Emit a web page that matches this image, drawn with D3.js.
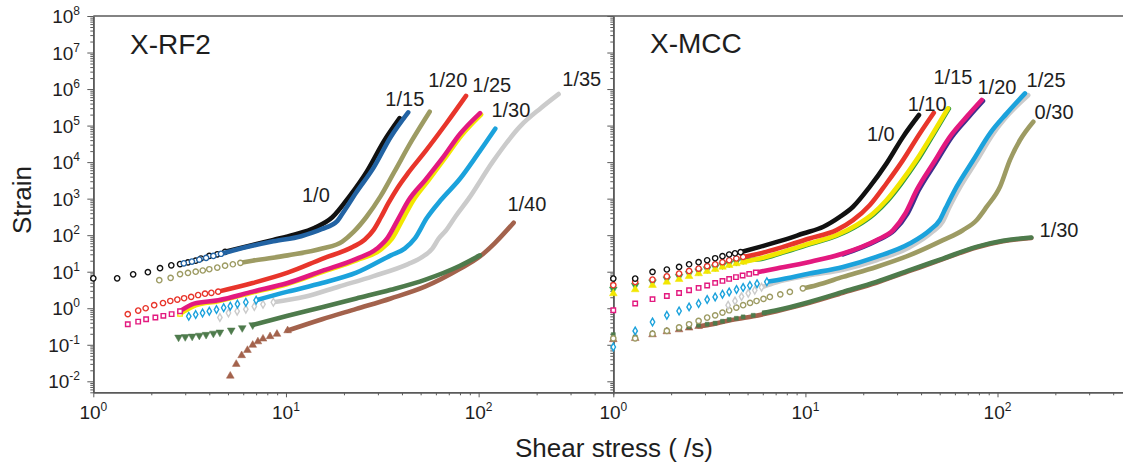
<!DOCTYPE html>
<html>
<head>
<meta charset="utf-8">
<script src="https://cdn.jsdelivr.net/npm/d3@7"></script>
<style>
  body { margin: 0; background: #fff; }
  text { font-family: "Liberation Sans", Arial, sans-serif; fill: #1e1e1e; }
</style>
</head>
<body>
<svg id="chart" width="1123" height="463"></svg>
<script>
// X-RF2 panel
var rf2_0  = [[1.0,6.6],[1.33,6.6],[1.61,8.5],[1.92,9.7],[2.22,12.5],[2.54,15],[2.82,16.2],[3.1,18],[3.4,20],[3.62,23],[4.0,27],[4.4,30],[4.83,35],
              [6.72,54],[8.6,74],[11.0,103],[14.1,159],[17.4,309],[21.4,1170],[26.2,5400],[32.3,38000],[38.9,160000]];
var rf2_b  = [[2.95,17],[3.25,19],[3.55,21.5],[3.85,24],[4.2,27],[4.6,31],
              [5.5,40],[8.6,68],[12.0,94],[15.3,146],[18.5,247],[19.7,400],[23.2,1500],[28.4,6850],[34.9,48000],[43.1,230000]];
var rf2_15 = [[2.2,5.85],[2.52,6.8],[2.82,8.6],[3.1,9.3],[3.4,10],[3.7,10.8],[4.0,11.7],[4.4,13],[4.83,14.6],[5.3,16],[5.8,17.5],
              [6.7,20],[10.2,28],[15.4,43],[19.6,67],[22.5,125],[26.2,320],[31,1170],[36.5,5400],[44.9,38000],[55.7,240000]];
var rf2_20 = [[1.51,0.69],[1.71,0.865],[1.87,1.0],[2.07,1.21],[2.3,1.39],[2.51,1.58],[2.73,1.73],[2.96,1.88],[3.22,2.05],[3.5,2.3],[3.8,2.5],[4.1,2.65],[4.45,2.85],
              [6.72,4.9],[10.2,9.4],[15.4,22.5],[22.3,48],[25.6,75],[28.5,140],[31,300],[34,750],[38,2000],[43,5000],[53,20000],[67.9,114000],[86,650000]];
var rf2_25 = [[1.51,0.365],[1.71,0.43],[1.88,0.5],[2.1,0.56],[2.31,0.62],[2.55,0.69],[2.82,0.83],
              [3.33,1.34],[4.45,1.66],[6.72,2.85],[10.2,4.9],[15.4,10.5],[23.2,22.5],[29.7,43],[33.6,83],[38.4,290],[43.3,900],[53,3300],[65,13000],[80,59000],[101.7,220000]];
var rf2_y  = [[2.82,0.7],
              [3.4,1.2],[4.45,1.55],[6.72,2.7],[10.2,4.6],[15.4,9.8],[23.2,20.5],[31,40],[35.5,80],[40.5,280],[45.5,850],[55,3200],[67,13000],[82,56000],[103,200000]];
var rf2_30 = [[3.13,0.6],[3.4,0.67],[3.69,0.74],[4.0,0.83],[4.36,0.92],[4.75,1.03],[5.14,1.14],[5.6,1.3],[6.19,1.46],[7.0,1.66],
              [10.2,2.85],[15.4,4.9],[23.2,9.4],[35,28],[41.3,43],[46.8,83],[53.7,290],[63.5,900],[80,3500],[98.5,16000],[122,82000]];
var rf2_35 = [[4.54,0.56],[5.03,0.74],[5.58,0.83],[6.19,0.94],[6.85,1.12],[7.6,1.28],[8.6,1.46],
              [12.5,2.05],[18.9,3.95],[28.5,7.6],[43,16.2],[50.8,25],[57.5,43],[62,80],[67.3,130],[76,330],[88.8,1000],[118,10000],[165.6,100000],[210,300000],[260,730000]];
var rf2_g  = [[2.77,0.16],[3.0,0.165],[3.26,0.17],[3.55,0.18],[3.85,0.19],[4.2,0.205],[4.54,0.22],[5.2,0.25],[5.93,0.29],[6.72,0.347],
              [10.2,0.62],[15.4,1.07],[23.2,1.85],[35,3.2],[53,6.1],[80,14.6],[101.5,28]];
var rf2_40 = [[5.14,0.014],[5.52,0.0295],[5.89,0.051],[6.31,0.071],[6.72,0.098],[7.15,0.122],[7.6,0.145],[8.27,0.169],[8.98,0.196],[10.2,0.245],
              [15.4,0.5],[23.2,0.96],[35,1.85],[53,3.95],[80,12],[101.5,26],[121,60],[152,220]];

// X-MCC panel
var mcc_0  = [[1.0,6.5],[1.3,6.5],[1.6,9.9],[1.9,11.5],[2.2,13.5],[2.48,16],[2.78,18.2],[3.08,20.6],[3.39,23.4],[3.7,26.6],[4.01,29.6],[4.3,32],[4.6,34.2],
              [5.79,47.8],[7.65,73],[9.73,111],[12.4,170],[15.1,316],[17.7,600],[21.6,2100],[26.4,9100],[32.2,49000],[39,195000]];
var mcc_10 = [[1.0,4.27],[1.3,5.25],[1.6,6.1],[1.9,7.5],[2.2,8.9],[2.48,10.5],[2.78,12.2],[3.08,14.2],[3.39,16],[3.7,18.2],[4.01,20.6],[4.37,23],[4.74,25.4],
              [5.79,31.6],[7.65,47.8],[10.5,81],[14.5,137],[17.7,257],[21.6,660],[26.4,2600],[32.2,11350],[39.4,61000],[46.6,224000]];
var mcc_g  = [[1.0,3.3],[1.3,4.2],[1.6,5.2],[1.9,6.3],[2.2,7.4],[2.48,8.9],[2.78,10.4],[3.08,11.9],[3.39,13.4],[3.7,15.3],[4.01,17],[4.37,18.9],[4.74,20.8],
              [5.79,22],[7.65,33.5],[10.5,56],[14.5,95],[18.6,180],[22.8,380],[26.8,880],[31.5,2550],[38.3,11000],[46.6,60000],[55.8,290000]];
var mcc_15 = [[1.0,2.53],[1.3,3.25],[1.6,4.27],[1.9,5.25],[2.2,6.2],[2.48,7.5],[2.78,8.9],[3.08,10.3],[3.39,11.7],[3.7,13.5],[4.01,15.1],[4.37,16.8],[4.74,18.5],
              [5.79,22.9],[7.65,35],[10.5,59],[14.5,100],[18.4,188],[22.5,393],[26.4,900],[31,2600],[37.8,11350],[46.1,61000],[55.2,296000]];
var mcc_20 = [[1.0,0.88],[1.3,1.35],[1.6,1.77],[1.9,2.17],[2.2,2.62],[2.48,3.1],[2.78,3.6],[3.08,4.2],[3.39,4.93],[3.7,5.6],[4.01,6.35],[4.35,7.1],[4.71,7.9],[5.1,8.7],[5.52,9.5],
              [7.08,12.2],[10.5,18.5],[15.7,31.6],[23.4,73],[28.6,137],[33,380],[38,1730],[46.3,9300],[56.6,49900],[69.2,176000],[82.7,500000]];
var mcc_p  = [[15.7,30],[23.4,70],[29,135],[34,390],[39,1750],[47.5,9300],[58,50000],[71,175000],[84,470000]];
var mcc_25 = [[1.0,0.087],[1.3,0.24],[1.6,0.42],[1.9,0.64],[2.2,0.84],[2.48,1.09],[2.78,1.35],[3.08,1.73],[3.39,2.04],[3.7,2.42],[4.01,2.8],[4.38,3.25],[4.74,3.69],[5.14,4.19],[5.6,4.7],[6.3,5.3],
              [7.08,5.85],[10.5,8.9],[15.7,13.5],[23.4,25.5],[34.9,59],[44.4,137],[50,257],[53.7,550],[61.3,2120],[74.8,11400],[91.4,61400],[111.7,216000],[139,762000]];
var mcc_gy = [[3.96,1.21],[4.3,1.58],[4.65,2.08],[5.04,2.56],[5.45,3.1],[5.91,3.76],
              [7.08,5.15],[10.5,8.0],[15.7,11.4],[23.4,20.6],[34.9,47],[46,125],[52,240],[56,560],[64,2100],[78,11000],[95,60000],[115,210000],[144.5,680000]];
var mcc_030 = [[1.0,0.15],[1.3,0.15],[1.6,0.2],[1.9,0.24],[2.2,0.3],[2.48,0.365],[2.78,0.45],[3.08,0.556],[3.39,0.64],[3.7,0.76],[4.01,0.88],[4.37,1.04],[4.74,1.21],[5.15,1.4],[5.57,1.58],[6.05,1.8],[6.53,2.04],[7.4,2.4],[8.3,2.8],[9.7,3.5],
              [11.4,4.27],[15.7,7.2],[23.4,13.5],[34.9,28.3],[52,73],[66,137],[78,261],[87.9,603],[103,2120],[116,11400],[131,40300],[153.6,127600]];
var mcc_br = [[1.0,0.14],[1.3,0.15],[1.6,0.19],[1.9,0.23],[2.2,0.26],[2.48,0.29],[2.78,0.32],
              [3.08,0.345],[4.01,0.46],[5.35,0.6],[7.08,0.83],[10.5,1.4],[15.7,2.65],[23.4,5.0],[34.9,10.5],[52,22],[77.6,46],[106.7,68],[150,84]];
var mcc_30 = [[1.0,0.19],[1.3,0.164],[1.6,0.21],[1.9,0.25],[2.2,0.278],[2.48,0.31],[2.78,0.342],[3.08,0.365],[3.39,0.39],[3.7,0.44],[4.01,0.49],[4.37,0.53],[4.74,0.58],[5.35,0.64],[6.1,0.75],
              [7.08,0.88],[10.5,1.49],[15.7,2.8],[23.4,5.26],[34.9,11],[52,22.9],[77.6,47.8],[106.7,70],[150,86.5]];

// curve labels [text, shear stress, strain]
var rf2Labels = [["1/0",14.3,1300],["1/15",41.4,535000],["1/20",69.2,1770000],["1/25",117,1290000],
                 ["1/30",147,267000],["1/35",343,1880000],["1/40",178,714]];
var mccLabels = [["1/0",24.7,59000],["1/10",43,390000],["1/15",58.6,2140000],["1/20",99.3,1140000],
                 ["1/25",179,1770000],["0/30",197,236000],["1/30",209,139]];

// ---------- styles ----------
var rf2Series = [
  { data: rf2_40, color: '#a3624c', shape: 'tri',   split: 10 },
  { data: rf2_g,  color: '#4e7b4c', shape: 'tdown', split: 10 },
  { data: rf2_35, color: '#cbcbcb', shape: 'diam',  split: 7 },
  { data: rf2_30, color: '#1ba2dc', shape: 'diam',  split: 10 },
  { data: rf2_y,  color: '#f2e600', shape: 'sq',    split: 1 },
  { data: rf2_25, color: '#e3197f', shape: 'sq',    split: 7 },
  { data: rf2_20, color: '#e8352b', shape: 'circ',  split: 13 },
  { data: rf2_15, color: '#9d9b63', shape: 'circ',  split: 11 },
  { data: rf2_0,  color: '#111111', shape: 'circ',  split: 13 },
  { data: rf2_b,  color: '#2263a3', shape: 'circ',  split: 6 }
];
var mccSeries = [
  { data: mcc_br,  color: '#a3624c', shape: 'tri',   split: 7 },
  { data: mcc_30,  color: '#4e7b4c', shape: 'sqf',   split: 15 },
  { data: mcc_030, color: '#9d9b63', shape: 'circ',  split: 20 },
  { data: mcc_gy,  color: '#cbcbcb', shape: 'diam',  split: 6 },
  { data: mcc_25,  color: '#1ba2dc', shape: 'diam',  split: 16 },
  { data: mcc_p,   color: '#3f2f8e', shape: 'sq',    split: 0 },
  { data: mcc_20,  color: '#e3197f', shape: 'sq',    split: 15 },
  { data: mcc_g,   color: '#2f9a46', shape: 'tdown', split: 13 },
  { data: mcc_15,  color: '#f2e600', shape: 'tri',   split: 13 },
  { data: mcc_10,  color: '#e8352b', shape: 'circ',  split: 13 },
  { data: mcc_0,   color: '#111111', shape: 'circ',  split: 13 }
];

// ---------- layout ----------
var svg = d3.select('#chart');
var top_ = 16, bottom = 392.3, left = 93.3, mid = 613.3, right = 1123;
var axisColor = '#5a5a5a';

var y  = d3.scaleLog().domain([0.005, 1e8]).range([bottom, top_]);
var xL = d3.scaleLog().domain([1, 500]).range([left, mid]);
var xR = d3.scaleLog().domain([1, 450]).range([mid, right]);

function logTicks(lo, hi, e0, e1) {
  var out = [];
  for (var e = e0; e <= e1; e++) {
    for (var m = 1; m < 10; m++) {
      var v = +(m * Math.pow(10, e)).toPrecision(6);
      if (v >= lo && v <= hi) out.push(v);
    }
  }
  return out;
}
function isMajor(v) { return Math.abs(Math.log10(v) - Math.round(Math.log10(v))) < 1e-6; }

function styleAxis(g) {
  g.select('.domain').attr('stroke', axisColor).attr('stroke-width', 1.6);
  g.selectAll('.tick line').attr('stroke', axisColor).attr('stroke-width', 1);
}

function supLabel(g, x, yy, exp, anchor) {
  var t = g.append('text').attr('x', x).attr('y', yy)
    .attr('text-anchor', anchor).style('font-size', '19px');
  t.append('tspan').text('10');
  t.append('tspan').attr('dy', -8).style('font-size', '12px').text(exp);
}

var axes = svg.append('g');

// y axes (left panel with labels, right panel divider without)
var yTicks = logTicks(0.005, 1e8, -3, 8);
[left, mid].forEach(function(xp, i) {
  var gm = axes.append('g').attr('transform', 'translate(' + xp + ',0)')
    .call(d3.axisLeft(y).tickValues(yTicks.filter(function(v){ return !isMajor(v); }))
      .tickSize(3).tickFormat('').tickSizeOuter(0));
  styleAxis(gm);
  var gM = axes.append('g').attr('transform', 'translate(' + xp + ',0)')
    .call(d3.axisLeft(y).tickValues(yTicks.filter(isMajor)).tickSize(6).tickFormat('').tickSizeOuter(0));
  styleAxis(gM);
  if (i == 0) {
    yTicks.filter(isMajor).forEach(function(v) {
      supLabel(axes, 80, y(v) + 7, Math.round(Math.log10(v)), 'end');
    });
  }
});

// x axes
[[xL, 500], [xR, 450]].forEach(function(p) {
  var sc = p[0];
  var ticks = logTicks(1, p[1], 0, 2);
  var gm = axes.append('g').attr('transform', 'translate(0,' + bottom + ')')
    .call(d3.axisBottom(sc).tickValues(ticks.filter(function(v){ return !isMajor(v); }))
      .tickSize(3).tickFormat('').tickSizeOuter(0));
  styleAxis(gm);
  var gM = axes.append('g').attr('transform', 'translate(0,' + bottom + ')')
    .call(d3.axisBottom(sc).tickValues(ticks.filter(isMajor)).tickSize(5).tickFormat('').tickSizeOuter(0));
  styleAxis(gM);
  ticks.filter(isMajor).forEach(function(v) {
    supLabel(axes, sc(v), 419, Math.round(Math.log10(v)), 'middle');
  });
});

// top frame line
axes.append('line').attr('x1', left).attr('x2', right).attr('y1', top_).attr('y2', top_)
  .attr('stroke', axisColor).attr('stroke-width', 1.6);

// ---------- series ----------
var symbols = {
  circ:  d3.symbol().type(d3.symbolCircle).size(22),
  sq:    d3.symbol().type(d3.symbolSquare).size(20),
  sqf:   d3.symbol().type(d3.symbolSquare).size(16),
  diam:  d3.symbol().type(d3.symbolDiamond).size(17),
  tri:   d3.symbol().type(d3.symbolTriangle).size(26),
  tdown: d3.symbol().type(d3.symbolTriangle).size(26)
};
var filled = { tri: true, tdown: true, sqf: true };

function drawPanel(series, xs) {
  var g = svg.append('g');
  var line = d3.line().x(function(d){ return xs(d[0]); }).y(function(d){ return y(d[1]); })
    .curve(d3.curveMonotoneX);
  series.forEach(function(s) {
    var dense = s.data.slice(Math.max(s.split - 1, 0));
    var dots = s.data.slice(0, s.split);
    g.append('path').datum(dense).attr('d', line)
      .attr('fill', 'none').attr('stroke', s.color).attr('stroke-width', 4.6)
      .attr('stroke-linecap', 'round').attr('stroke-linejoin', 'round');
    g.selectAll(null).data(dots).join('path')
      .attr('transform', function(d) {
        return 'translate(' + xs(d[0]) + ',' + y(d[1]) + ')' + (s.shape == 'tdown' ? ' rotate(180)' : '');
      })
      .attr('d', symbols[s.shape])
      .attr('fill', filled[s.shape] ? s.color : '#fff')
      .attr('stroke', s.color)
      .attr('stroke-width', filled[s.shape] ? 0.5 : 1.4);
  });
}
drawPanel(rf2Series, xL);
drawPanel(mccSeries, xR);

// ---------- labels ----------
function drawLabels(labels, xs) {
  svg.append('g').selectAll('text').data(labels).join('text')
    .attr('x', function(d){ return xs(d[1]); })
    .attr('y', function(d){ return y(d[2]); })
    .attr('dy', '0.36em')
    .attr('text-anchor', 'middle')
    .style('font-size', '20px')
    .text(function(d){ return d[0]; });
}
drawLabels(rf2Labels, xL);
drawLabels(mccLabels, xR);

svg.append('text').attr('x', 130).attr('y', 54).style('font-size', '28px').text('X-RF2');
svg.append('text').attr('x', 650).attr('y', 53).style('font-size', '28px').text('X-MCC');

svg.append('text').attr('transform', 'translate(31,200) rotate(-90)')
  .attr('text-anchor', 'middle').style('font-size', '26px').text('Strain');
svg.append('text').attr('x', 614).attr('y', 457)
  .attr('text-anchor', 'middle').style('font-size', '26px').text('Shear stress ( /s)');
</script>
</body>
</html>
